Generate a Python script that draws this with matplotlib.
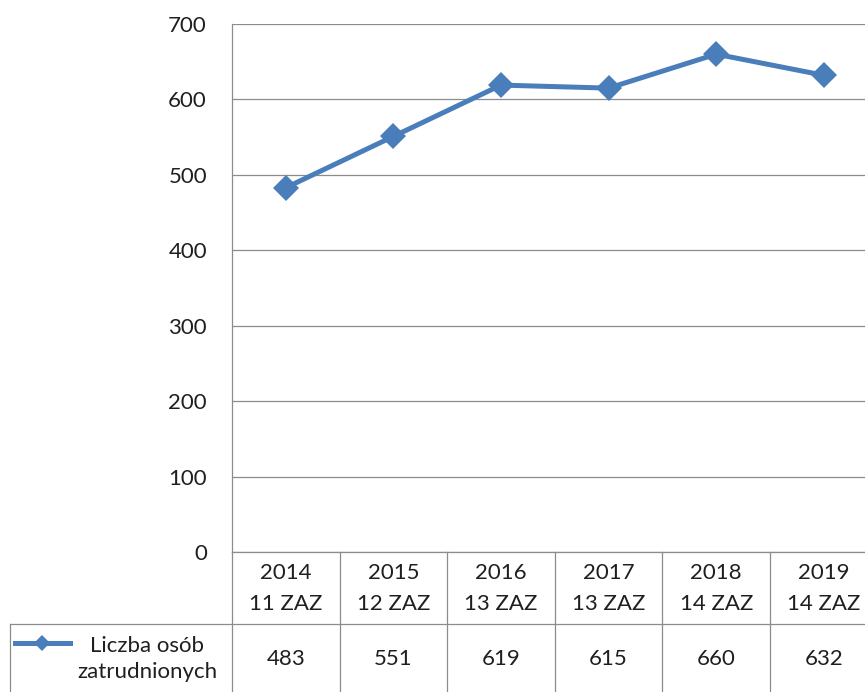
import matplotlib
matplotlib.use('Agg')
import matplotlib.pyplot as plt
import matplotlib.transforms as mtransforms
from matplotlib.lines import Line2D

# Data
YEARS = ['2014', '2015', '2016', '2017', '2018', '2019']
ZAZ = ['11 ZAZ', '12 ZAZ', '13 ZAZ', '13 ZAZ', '14 ZAZ', '14 ZAZ']
EMPLOYED = [483, 551, 619, 615, 660, 632]
SERIES_LABEL = 'Liczba osób\nzatrudnionych'
Y_TICKS = [0, 100, 200, 300, 400, 500, 600, 700]

LINE_COLOR = '#4a7ebb'
GRID_COLOR = '#8c8c8c'
TEXT_COLOR = '#1f1f1f'
FONT = ['Lato', 'DejaVu Sans']
FS = 16

W, H = 865, 692
plt.rcParams['font.family'] = FONT

fig = plt.figure(figsize=(W / 100, H / 100), dpi=100)
fig.patch.set_facecolor('white')


def fy(py):
    """pixel row (from top) -> figure fraction"""
    return 1 - py / H


def fx(px):
    return px / W


ax_left, ax_right, ax_top, ax_bottom = 232, 877.6, 24, 552
ax = fig.add_axes([fx(ax_left), fy(ax_bottom), fx(ax_right - ax_left),
                   (ax_bottom - ax_top) / H])

x = list(range(len(YEARS)))
ax.plot(x, EMPLOYED, color=LINE_COLOR, lw=3.6, marker='D', markersize=13,
        markeredgewidth=0, zorder=3, clip_on=False)

ax.set_xlim(-0.5, len(YEARS) - 0.5)
ax.set_ylim(0, 700)
ax.set_yticks(Y_TICKS)
ax.set_yticklabels([str(t) for t in Y_TICKS], fontsize=FS, color=TEXT_COLOR)
ax.set_xticks([])
ax.tick_params(axis='y', length=0, pad=18)
ax.grid(axis='y', color=GRID_COLOR, lw=0.9)
ax.set_axisbelow(True)
for side in ['top', 'right']:
    ax.spines[side].set_visible(False)
for side in ['left', 'bottom']:
    ax.spines[side].set_color(GRID_COLOR)
    ax.spines[side].set_linewidth(0.9)

# Data table below the plot: x in data units, y in figure fraction
trans = mtransforms.blended_transform_factory(ax.transData, fig.transFigure)
row_sep = 624
for i in range(len(YEARS) + 1):
    fig.add_artist(Line2D([i - 0.5, i - 0.5], [fy(ax_bottom), fy(H + 2)],
                          transform=trans, color=GRID_COLOR, lw=0.9))
fig.add_artist(Line2D([fx(10), 1.0], [fy(row_sep), fy(row_sep)],
                      transform=fig.transFigure, color=GRID_COLOR, lw=0.9))
fig.add_artist(Line2D([fx(10), fx(10)], [fy(row_sep), fy(H + 2)],
                      transform=fig.transFigure, color=GRID_COLOR, lw=0.9))

for i, (yr, zaz, val) in enumerate(zip(YEARS, ZAZ, EMPLOYED)):
    fig.text(i, fy(573), yr, transform=trans, ha='center', va='center',
             fontsize=FS, color=TEXT_COLOR)
    fig.text(i, fy(604), zaz, transform=trans, ha='center', va='center',
             fontsize=FS, color=TEXT_COLOR)
    fig.text(i, fy(659), str(val), transform=trans, ha='center', va='center',
             fontsize=FS, color=TEXT_COLOR)

# Legend key inside the table row
fig.add_artist(Line2D([fx(15), fx(70)], [fy(643), fy(643)],
                      transform=fig.transFigure, color=LINE_COLOR, lw=3.6))
fig.add_artist(Line2D([fx(42)], [fy(643)], transform=fig.transFigure,
                      color=LINE_COLOR, marker='D', markersize=8,
                      markeredgewidth=0))
fig.text(fx(147), fy(659), SERIES_LABEL, ha='center', va='center',
         fontsize=FS, color=TEXT_COLOR, linespacing=1.35)

fig.savefig('out.png', dpi=100, facecolor='white')
